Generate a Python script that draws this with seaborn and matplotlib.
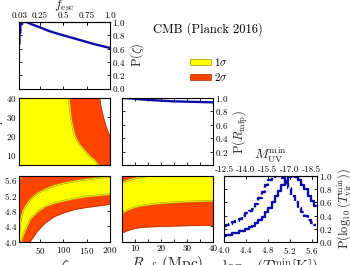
import matplotlib
matplotlib.use('Agg')
import matplotlib.pyplot as plt
import seaborn as sns
from matplotlib.patches import Patch

# ---- marginal P(zeta) (steps near the start, then smooth decline) ----
zeta_pts = [5, 6, 6, 8, 8, 12, 12, 22, 30, 40, 50, 60, 71, 85, 100, 115, 130, 150, 170, 185, 200]
p_zeta = [0.67, 0.67, 0.84, 0.84, 0.97, 0.97, 1.0, 1.0, 0.97, 0.945, 0.92, 0.89, 0.86, 0.83, 0.80,
          0.77, 0.74, 0.70, 0.66, 0.635, 0.61]

# ---- marginal P(R_mfp) ----
rmfp_pts = [5, 8, 12, 16, 20, 25, 30, 35, 40]
p_rmfp = [1.0, 0.995, 0.98, 0.97, 0.96, 0.95, 0.945, 0.94, 0.935]

# ---- marginal P(log10 Tvir) : solid (Tvir) and dashed ----
logt_pts = [4.00, 4.06, 4.12, 4.18, 4.24, 4.30, 4.36, 4.42, 4.48, 4.54, 4.60, 4.66, 4.72, 4.78,
            4.84, 4.90, 4.96, 5.02, 5.08, 5.14, 5.20, 5.26, 5.32, 5.38, 5.44, 5.50, 5.56, 5.62, 5.68]
p_logt = [0.09, 0.10, 0.11, 0.13, 0.14, 0.16, 0.17, 0.19, 0.22, 0.25, 0.29, 0.33, 0.38, 0.45,
          0.52, 0.60, 0.69, 0.77, 0.86, 0.93, 0.98, 1.00, 0.99, 0.94, 0.87, 0.80, 0.70, 0.62, 0.55]
p_logt_dash = [0.24, 0.26, 0.28, 0.30, 0.32, 0.35, 0.40, 0.44, 0.47, 0.50, 0.58, 0.66, 0.76, 0.86,
               0.94, 0.98, 1.00, 1.00, 0.97, 0.90, 0.82, 0.70, 0.60, 0.52, 0.45, 0.39, 0.33, 0.29, 0.26]

# ---- contours zeta vs R_mfp (zeta of boundary at given R) ----
r_1s = [40, 35, 30, 25, 20, 16, 12.4, 9.5, 7.2, 5]
z_1s = [112, 114, 116, 120, 125, 134, 146, 157, 168, 175]
r_2s = [40, 35, 30, 25, 20, 5]
z_2s = [178, 181, 186, 192, 200, 215]

# ---- contours zeta vs log10 Tvir ----
zeta_c = [5, 7, 10, 14, 20, 30, 45, 60, 80, 100, 125, 150, 175, 200]
zt_1s_hi = [4.15, 4.44, 4.65, 4.80, 4.94, 5.10, 5.26, 5.35, 5.45, 5.51, 5.57, 5.61, 5.65, 5.68]
zt_1s_lo = [3.80, 3.90, 4.03, 4.17, 4.35, 4.60, 4.78, 4.91, 5.00, 5.06, 5.12, 5.17, 5.20, 5.23]
zt_2s_hi = [5.50, 5.60, 5.68, 5.75, 5.82, 5.90, 5.95, 6.0, 6.0, 6.0, 6.0, 6.0, 6.0, 6.0]
zt_2s_lo = [3.50, 3.50, 3.60, 3.70, 3.85, 4.03, 4.29, 4.48, 4.65, 4.75, 4.84, 4.89, 4.93, 4.97]

# ---- contours R_mfp vs log10 Tvir ----
rmfp_c = [5, 7, 10, 13, 16, 20, 25, 30, 35, 40]
rt_1s_hi = [5.53, 5.58, 5.64, 5.68, 5.71, 5.74, 5.77, 5.80, 5.82, 5.84]
rt_1s_lo = [4.74, 4.82, 4.90, 4.94, 4.97, 5.00, 5.02, 5.04, 5.05, 5.06]
rt_2s_hi = [5.90, 5.95, 6.0, 6.0, 6.0, 6.0, 6.0, 6.0, 6.0, 6.0]
rt_2s_lo = [4.23, 4.29, 4.35, 4.38, 4.39, 4.40, 4.41, 4.42, 4.425, 4.43]

fesc_ticks = [0.03, 0.25, 0.5, 0.75, 1.0]
fesc_labels = ['0.03', '0.25', '0.5', '0.75', '1.0']
muv_labels = ['-12.5', '-14.0', '-15.5', '-17.0', '-18.5']
logt_ticks = [4.0, 4.4, 4.8, 5.2, 5.6]

YEL = '#ffff00'
ORG = '#ff4500'
BLUE = '#0c0ca8'
ZLIM = (5, 200)
RLIM = (5, 40)
TLIM = (4.0, 5.7)

sns.set_theme(style='ticks')
plt.rcParams.update({
    'font.family': 'serif', 'font.serif': ['cmr10', 'DejaVu Serif'],
    'mathtext.fontset': 'cm', 'axes.formatter.use_mathtext': True,
    'axes.edgecolor': 'black', 'axes.linewidth': 0.8, 'text.color': 'black',
    'xtick.color': 'black', 'ytick.color': 'black',
    'xtick.direction': 'in', 'ytick.direction': 'in',
    'xtick.top': True, 'ytick.right': True,
    'xtick.major.size': 2.5, 'ytick.major.size': 2.5,
    'xtick.major.width': 0.6, 'ytick.major.width': 0.6,
    'xtick.labelsize': 6.5, 'ytick.labelsize': 6.5,
    'xtick.major.pad': 2, 'ytick.major.pad': 1.5,
})

W, H = 350, 265
fig = plt.figure(figsize=(W / 100, H / 100), dpi=100)


def px_axes(x0, y0, x1, y1):
    return fig.add_axes([x0 / W, 1 - y1 / H, (x1 - x0) / W, (y1 - y0) / H])


def outline(ax, x, y):
    ax.plot(x, y, color='#a8a000', lw=1.3)
    ax.plot(x, y, color=YEL, lw=0.5)


ax00 = px_axes(19, 22, 110, 88.5)
ax10 = px_axes(19, 98, 110, 165)
ax11 = px_axes(122, 98, 213, 165)
ax20 = px_axes(19, 176, 110, 242)
ax21 = px_axes(122, 176, 213, 242)
ax22 = px_axes(224, 176, 317, 242)

# top-left: P(zeta)
sns.lineplot(x=zeta_pts, y=p_zeta, ax=ax00, color=BLUE, lw=1.7, estimator=None, sort=False)
ax00.set_xlim(*ZLIM)
ax00.set_ylim(0, 1)
ax00.set_xticks([50, 100, 150])
ax00.set_xticklabels([])
ax00.set_yticks([0, 0.2, 0.4, 0.6, 0.8, 1.0])
ax00.tick_params(axis='y', left=True, right=True, labelleft=False, labelright=True)
ax00.yaxis.set_label_position('right')
ax00.set_ylabel(r'${\rm P}(\zeta)$', fontsize=9, labelpad=2)
sec = ax00.secondary_xaxis('top', functions=(lambda z: z / 200, lambda f: f * 200))
sec.set_xticks(fesc_ticks, fesc_labels)
sec.tick_params(direction='in', length=2.5, width=0.6, labelsize=6.5, pad=1.5)
sec.set_xlabel(r'$f_{\rm esc}$', fontsize=10, labelpad=2.5)

# zeta vs R_mfp
ax10.fill_betweenx(r_2s, ZLIM[0], z_2s, color=ORG, lw=0)
ax10.fill_betweenx(r_1s, ZLIM[0], z_1s, color=YEL, lw=0)
outline(ax10, z_1s, r_1s)
ax10.plot(z_2s, r_2s, color='#b03000', lw=0.5)
ax10.set_xlim(*ZLIM)
ax10.set_ylim(*RLIM)
ax10.set_xticks([50, 100, 150])
ax10.set_xticklabels([])
ax10.set_yticks([10, 20, 30, 40])
ax10.set_ylabel(r'$R_{\rm mfp}$', fontsize=10)
ax10.yaxis.set_label_coords(-0.14, 0.5)

# P(R_mfp)
sns.lineplot(x=rmfp_pts, y=p_rmfp, ax=ax11, color=BLUE, lw=1.7)
ax11.set_xlim(*RLIM)
ax11.set_ylim(0, 1)
ax11.set_xticks(range(5, 41, 5))
ax11.set_xticklabels([])
ax11.set_yticks([0.2, 0.4, 0.6, 0.8, 1.0])
ax11.tick_params(axis='y', labelleft=False, labelright=True)
ax11.yaxis.set_label_position('right')
ax11.set_ylabel(r'${\rm P}(R_{\rm mfp})$', fontsize=9, labelpad=2)

# zeta vs log Tvir
ax20.fill_between(zeta_c, zt_2s_lo, zt_2s_hi, color=ORG, lw=0)
ax20.fill_between(zeta_c, zt_1s_lo, zt_1s_hi, color=YEL, lw=0)
outline(ax20, zeta_c, zt_1s_hi)
outline(ax20, zeta_c, zt_1s_lo)
ax20.plot(zeta_c, zt_2s_lo, color='#b03000', lw=0.5)
ax20.plot(zeta_c, zt_2s_hi, color='#b03000', lw=0.5)
ax20.set_xlim(*ZLIM)
ax20.set_ylim(*TLIM)
ax20.set_xticks([50, 100, 150, 200])
ax20.set_yticks(logt_ticks)
ax20.set_xlabel(r'$\zeta$', fontsize=11, labelpad=1)

# R_mfp vs log Tvir
ax21.fill_between(rmfp_c, rt_2s_lo, rt_2s_hi, color=ORG, lw=0)
ax21.fill_between(rmfp_c, rt_1s_lo, rt_1s_hi, color=YEL, lw=0)
outline(ax21, rmfp_c, rt_1s_hi)
outline(ax21, rmfp_c, rt_1s_lo)
ax21.plot(rmfp_c, rt_2s_lo, color='#b03000', lw=0.5)
ax21.set_xlim(*RLIM)
ax21.set_ylim(*TLIM)
ax21.set_xticks(range(5, 41, 5))
ax21.set_xticklabels(['', '10', '', '20', '', '30', '', '40'])
ax21.set_yticks(logt_ticks)
ax21.set_yticklabels([])
ax21.set_xlabel(r'$R_{\rm mfp}({\rm Mpc})$', fontsize=11, labelpad=1)

# P(log Tvir)
sns.lineplot(x=logt_pts, y=p_logt_dash, ax=ax22, color=BLUE, lw=1.7,
             drawstyle='steps-mid', linestyle=(0, (3, 1.2)))
sns.lineplot(x=logt_pts, y=p_logt, ax=ax22, color=BLUE, lw=1.7, drawstyle='steps-mid')
ax22.set_xlim(*TLIM)
ax22.set_ylim(0, 1)
ax22.set_xticks(logt_ticks)
ax22.set_yticks([0, 0.2, 0.4, 0.6, 0.8, 1.0])
ax22.tick_params(axis='y', labelleft=False, labelright=True)
ax22.yaxis.set_label_position('right')
ax22.set_ylabel(r'${\rm P}(\log_{10}(T_{\rm vir}^{\rm min}))$', fontsize=9, labelpad=2)
ax22.set_xlabel(r'$\log_{10}(T_{\rm vir}^{\rm min}[{\rm K}])$', fontsize=11, labelpad=1)
top = ax22.secondary_xaxis('top')
top.set_xticks(logt_ticks, muv_labels)
top.tick_params(direction='in', length=2.5, width=0.6, labelsize=6.5, pad=1.5)
top.set_xlabel(r'$M_{\rm UV}^{\rm min}$', fontsize=10, labelpad=4)

fig.text(208 / W, 1 - 29 / H, 'CMB (Planck 2016)', fontsize=9, ha='center', va='center')
fig.legend(handles=[Patch(facecolor=YEL, edgecolor='#9a9a00', lw=0.5, label=r'$1\sigma$'),
                    Patch(facecolor=ORG, edgecolor='#a03000', lw=0.5, label=r'$2\sigma$')],
           loc='upper left', bbox_to_anchor=(190 / W, 1 - 56 / H), frameon=False, fontsize=8,
           handlelength=1.9, handleheight=0.45, labelspacing=0.3, handletextpad=0.3,
           borderpad=0, borderaxespad=0)

fig.savefig('out.png', dpi=100)
